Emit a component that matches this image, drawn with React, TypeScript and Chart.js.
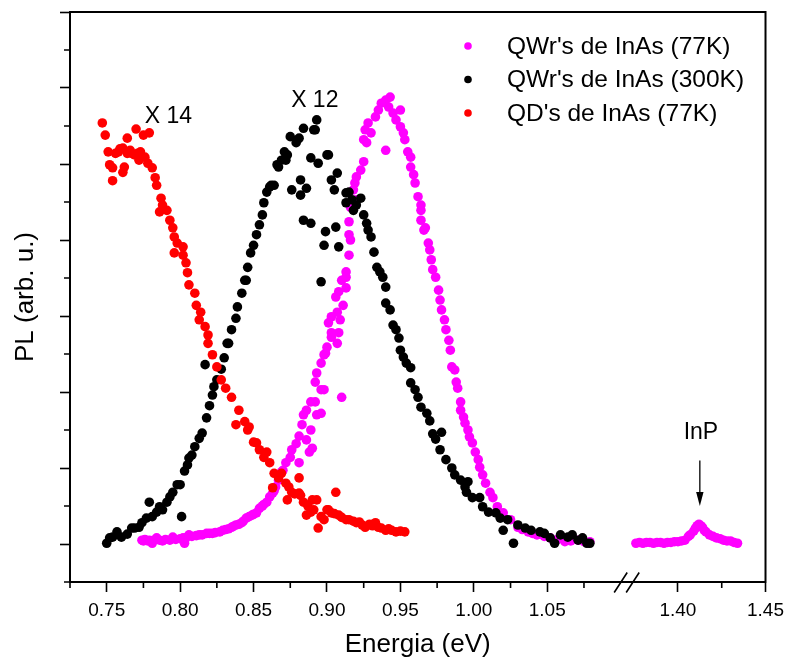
import React, { useEffect, useRef } from 'react';
import { Chart, registerables } from 'chart.js';

Chart.register(...registerables);

// ---------- data ----------
const seriesLabels = ["QWr's de InAs (77K)", "QWr's de InAs (300K)", "QD's de InAs (77K)"];
const seriesColors = ['#ff00ff', '#000000', '#ff0000'];

const majorTicksX = [0.75, 0.8, 0.85, 0.9, 0.95, 1.0, 1.05, 1.4, 1.45];
const minorTicksX = [0.725, 0.775, 0.825, 0.875, 0.925, 0.975, 1.025, 1.075, 1.425];
const majorTicksY = [0, 1, 2, 3, 4, 5, 6, 7];
const minorTicksY = [-0.5, 0.5, 1.5, 2.5, 3.5, 4.5, 5.5, 6.5];

// QWr's de InAs (77K): [energy eV, PL]
const qwr77: number[][] = [
  [0.774, 0.05], [0.775, 0.04], [0.776, 0.06], [0.778, 0.04], [0.779, 0.05], [0.781, 0.01], [0.782, 0.05], [0.784, 0.08],
  [0.786, 0.05], [0.788, 0.04], [0.79, 0.06], [0.793, 0.05], [0.795, 0.09], [0.797, 0.06], [0.8, 0.07], [0.802, 0.08],
  [0.803, 0.01], [0.804, 0.08], [0.806, 0.12], [0.808, 0.1], [0.811, 0.11], [0.813, 0.12], [0.815, 0.12], [0.818, 0.14],
  [0.82, 0.14], [0.822, 0.14], [0.824, 0.15], [0.827, 0.16], [0.829, 0.18], [0.831, 0.19], [0.833, 0.2], [0.835, 0.22],
  [0.836, 0.23], [0.838, 0.25], [0.84, 0.26], [0.842, 0.28], [0.843, 0.3], [0.845, 0.34], [0.847, 0.36], [0.849, 0.38],
  [0.85, 0.39], [0.852, 0.41], [0.854, 0.47], [0.856, 0.5], [0.857, 0.52], [0.859, 0.55], [0.861, 0.62], [0.863, 0.67],
  [0.864, 0.7], [0.865, 0.75], [0.867, 0.84], [0.869, 0.95], [0.87, 0.97], [0.872, 1.07], [0.875, 1.14], [0.876, 1.24],
  [0.879, 1.32], [0.881, 1.42], [0.881, 1.07], [0.883, 1.57], [0.884, 1.7], [0.886, 1.37], [0.886, 1.76], [0.888, 1.21],
  [0.889, 1.87], [0.889, 1.5], [0.89, 1.26], [0.892, 2.13], [0.892, 1.87], [0.893, 2.25], [0.893, 1.7], [0.896, 2.38],
  [0.896, 2.03], [0.896, 1.72], [0.898, 2.03], [0.898, 2.49], [0.899, 2.51], [0.9, 2.59], [0.901, 2.91], [0.903, 2.99],
  [0.903, 2.72], [0.903, 2.78], [0.906, 3.25], [0.907, 3.05], [0.907, 2.64], [0.908, 3.32], [0.908, 2.78], [0.909, 2.95],
  [0.91, 3.47], [0.91, 1.93], [0.911, 3.14], [0.913, 3.58], [0.913, 3.51], [0.913, 3.37], [0.915, 3.8], [0.915, 4.07],
  [0.915, 4.24], [0.916, 4.0], [0.916, 4.43], [0.918, 4.66], [0.919, 4.75], [0.92, 4.83], [0.92, 4.53], [0.923, 4.92],
  [0.925, 5.03], [0.925, 5.32], [0.926, 5.45], [0.927, 5.28], [0.928, 5.54], [0.93, 5.41], [0.933, 5.62], [0.935, 5.71],
  [0.937, 5.8], [0.94, 5.84], [0.94, 5.18], [0.942, 5.75], [0.943, 5.88], [0.945, 5.67], [0.947, 5.58], [0.95, 5.49],
  [0.95, 5.71], [0.952, 5.41], [0.953, 5.32], [0.955, 5.16], [0.957, 5.09], [0.957, 4.96], [0.959, 4.86], [0.96, 4.75],
  [0.962, 4.57], [0.964, 4.46], [0.964, 4.39], [0.964, 4.26], [0.966, 4.13], [0.967, 4.16], [0.969, 3.96], [0.97, 3.87],
  [0.971, 3.74], [0.972, 3.61], [0.974, 3.51], [0.976, 3.34], [0.977, 3.21], [0.978, 3.08], [0.98, 2.95], [0.981, 2.82],
  [0.983, 2.68], [0.984, 2.55], [0.985, 2.33], [0.987, 2.29], [0.988, 2.13], [0.989, 2.05], [0.991, 1.87], [0.991, 1.76],
  [0.993, 1.67], [0.994, 1.59], [0.996, 1.5], [0.997, 1.41], [0.999, 1.33], [1.001, 1.21], [1.003, 1.11], [1.004, 1.01],
  [1.006, 0.91], [1.008, 0.8], [1.011, 0.68], [1.013, 0.61], [1.016, 0.49], [1.02, 0.41], [1.025, 0.32], [1.03, 0.22],
  [1.033, 0.19], [1.037, 0.16], [1.04, 0.14], [1.043, 0.12], [1.048, 0.1], [1.052, 0.08], [1.057, 0.06], [1.062, 0.03],
  [1.066, 0.04], [1.071, 0.05], [1.075, 0.03], [1.079, 0.03],
  [1.376, 0.01], [1.378, 0.02], [1.38, 0.01], [1.382, 0.02], [1.384, 0.02], [1.386, 0.01], [1.388, 0.02], [1.39, 0.02],
  [1.392, 0.01], [1.394, 0.02], [1.396, 0.02], [1.398, 0.03], [1.4, 0.03], [1.402, 0.04], [1.404, 0.05], [1.406, 0.1],
  [1.407, 0.12], [1.409, 0.17], [1.41, 0.21], [1.411, 0.24], [1.412, 0.26], [1.413, 0.24], [1.414, 0.22], [1.415, 0.18],
  [1.416, 0.16], [1.418, 0.12], [1.42, 0.1], [1.422, 0.08], [1.424, 0.07], [1.426, 0.05], [1.428, 0.04], [1.43, 0.04],
  [1.432, 0.02], [1.434, 0.01],
];

// QWr's de InAs (300K)
const qwr300: number[][] = [
  [0.75, 0.01], [0.752, 0.08], [0.754, 0.09], [0.757, 0.16], [0.76, 0.09], [0.764, 0.13], [0.767, 0.21], [0.769, 0.21],
  [0.772, 0.22], [0.774, 0.28], [0.777, 0.34], [0.779, 0.55], [0.781, 0.36], [0.784, 0.42], [0.786, 0.49], [0.788, 0.45],
  [0.791, 0.55], [0.793, 0.62], [0.795, 0.68], [0.798, 0.78], [0.8, 0.78], [0.801, 0.36], [0.803, 0.96], [0.805, 1.04],
  [0.806, 1.13], [0.808, 1.17], [0.81, 1.28], [0.813, 1.39], [0.815, 1.46], [0.817, 2.36], [0.818, 1.66], [0.82, 1.82],
  [0.822, 1.96], [0.823, 2.07], [0.825, 2.16], [0.828, 2.3], [0.83, 2.45], [0.832, 2.64], [0.833, 2.64], [0.835, 2.82],
  [0.838, 2.97], [0.839, 3.12], [0.842, 3.3], [0.844, 3.47], [0.845, 3.47], [0.846, 3.64], [0.848, 3.83], [0.85, 3.93],
  [0.852, 4.07], [0.854, 4.2], [0.856, 4.33], [0.857, 4.49], [0.859, 4.63], [0.861, 4.7], [0.862, 4.72], [0.864, 4.72],
  [0.866, 4.99], [0.867, 4.96], [0.869, 5.05], [0.871, 5.16], [0.872, 5.05], [0.873, 5.12], [0.875, 5.36], [0.876, 4.66],
  [0.879, 5.28], [0.88, 5.32], [0.881, 5.34], [0.882, 4.79], [0.882, 4.59], [0.884, 5.47], [0.884, 4.26], [0.886, 4.68],
  [0.889, 5.08], [0.889, 4.22], [0.891, 5.45], [0.892, 5.45], [0.893, 5.58], [0.894, 5.01], [0.896, 3.45], [0.898, 3.93],
  [0.899, 4.11], [0.9, 5.12], [0.901, 5.12], [0.903, 4.79], [0.905, 4.66], [0.906, 4.17], [0.907, 4.88], [0.908, 3.91],
  [0.913, 4.49], [0.913, 4.62], [0.915, 4.63], [0.917, 4.53], [0.918, 4.39], [0.92, 4.46], [0.923, 4.55], [0.925, 4.33],
  [0.927, 4.22], [0.928, 4.13], [0.93, 4.04], [0.932, 3.84], [0.934, 3.64], [0.936, 3.58], [0.938, 3.51], [0.94, 3.38],
  [0.94, 3.17], [0.943, 3.08], [0.945, 2.88], [0.947, 2.82], [0.949, 2.71], [0.95, 2.55], [0.952, 2.46], [0.954, 2.38],
  [0.957, 2.32], [0.957, 2.12], [0.96, 2.03], [0.962, 1.93], [0.964, 1.8], [0.968, 1.72], [0.97, 1.62], [0.972, 1.45],
  [0.974, 1.38], [0.978, 1.47], [0.977, 1.24], [0.981, 1.11], [0.985, 1.0], [0.987, 0.91], [0.991, 0.84], [0.994, 0.75],
  [0.996, 0.82], [0.995, 0.68], [0.999, 0.61], [1.004, 0.61], [1.006, 0.49], [1.01, 0.42], [1.015, 0.41], [1.018, 0.34],
  [1.02, 0.18], [1.023, 0.32], [1.027, 0.01], [1.03, 0.25], [1.035, 0.21], [1.039, 0.18], [1.045, 0.16], [1.048, 0.14],
  [1.052, 0.08], [1.055, 0.01], [1.059, 0.12], [1.064, 0.09], [1.067, 0.12], [1.071, 0.05], [1.074, 0.08], [1.077, 0.01],
  [1.079, 0.01],
];

// QD's de InAs (77K)
const qd77: number[][] = [
  [0.747, 5.54], [0.749, 5.38], [0.751, 5.16], [0.752, 4.99], [0.754, 4.95], [0.754, 4.78], [0.756, 5.14], [0.758, 5.16],
  [0.759, 5.2], [0.761, 5.21], [0.761, 4.89], [0.762, 4.96], [0.764, 5.34], [0.764, 5.14], [0.766, 5.18], [0.767, 5.14],
  [0.769, 5.12], [0.77, 5.46], [0.771, 5.14], [0.772, 5.05], [0.773, 5.16], [0.775, 5.38], [0.776, 5.09], [0.778, 5.01],
  [0.779, 5.41], [0.781, 4.95], [0.783, 4.82], [0.784, 4.72], [0.786, 4.37], [0.787, 4.55], [0.788, 4.46], [0.791, 4.39],
  [0.793, 4.26], [0.795, 4.16], [0.796, 3.83], [0.796, 4.04], [0.798, 3.96], [0.802, 3.91], [0.802, 3.8], [0.804, 3.7],
  [0.805, 3.57], [0.806, 3.41], [0.81, 3.3], [0.811, 3.14], [0.813, 2.95], [0.814, 3.05], [0.817, 2.86], [0.819, 2.75],
  [0.819, 2.64], [0.822, 2.49], [0.825, 2.33], [0.828, 2.16], [0.831, 2.05], [0.835, 1.93], [0.838, 1.57], [0.84, 1.76],
  [0.844, 1.61], [0.846, 1.5], [0.847, 1.54], [0.85, 1.34], [0.852, 1.33], [0.854, 1.24], [0.857, 1.14], [0.859, 1.21],
  [0.861, 1.07], [0.863, 0.74], [0.864, 0.93], [0.867, 0.87], [0.869, 0.93], [0.872, 0.8], [0.873, 0.58], [0.874, 0.75],
  [0.876, 0.68], [0.878, 0.66], [0.881, 0.87], [0.881, 0.67], [0.882, 0.64], [0.884, 0.55], [0.886, 0.38], [0.887, 0.5],
  [0.889, 0.42], [0.89, 0.58], [0.891, 0.45], [0.893, 0.58], [0.894, 0.21], [0.896, 0.36], [0.898, 0.32], [0.9, 0.45],
  [0.901, 0.45], [0.903, 0.41], [0.905, 0.4], [0.906, 0.68], [0.908, 0.38], [0.91, 0.35], [0.913, 0.32], [0.915, 0.32],
  [0.918, 0.3], [0.92, 0.28], [0.922, 0.29], [0.924, 0.25], [0.926, 0.22], [0.929, 0.26], [0.931, 0.24], [0.933, 0.28],
  [0.935, 0.22], [0.937, 0.21], [0.94, 0.18], [0.942, 0.2], [0.944, 0.18], [0.947, 0.16], [0.95, 0.17], [0.953, 0.16],
];

// annotations (energy, PL)
const annotations = [
  { text: 'X 14', e: 0.792, v: 5.62 },
  { text: 'X 12', e: 0.8917, v: 5.84 },
  { text: 'InP', e: 1.4131, v: 1.46 },
];
const inpArrow = { e: 1.4125, from: 1.1, to: 0.5 };

// ---------- broken axis mapping ----------
const X_MIN = 0.725;
const RIGHT_ORIGIN = 1.139; // axis position of 1.40 eV
const RIGHT_STRETCH = 1.1925;
const BREAK_POS = 1.1041;
const toAxis = (e: number) => (e < 1.2 ? e : RIGHT_ORIGIN + (e - 1.4) * RIGHT_STRETCH);
const X_MAX = toAxis(1.45);

const FONT = '"Liberation Sans", Arial, Helvetica, sans-serif';

const decorPlugin = {
  id: 'decor',
  afterDraw(chart: any) {
    const { ctx, chartArea: a } = chart;
    const xs = chart.scales.x;
    const ys = chart.scales.y;
    ctx.save();
    ctx.strokeStyle = '#000';
    ctx.lineCap = 'butt';
    // top and right frame
    ctx.lineWidth = 2;
    ctx.beginPath();
    ctx.moveTo(a.left - 1, a.top);
    ctx.lineTo(a.right, a.top);
    ctx.lineTo(a.right, a.bottom + 1);
    ctx.stroke();
    // minor ticks
    ctx.lineWidth = 1.6;
    ctx.beginPath();
    minorTicksX.forEach((v) => {
      const px = xs.getPixelForValue(toAxis(v));
      ctx.moveTo(px, a.bottom);
      ctx.lineTo(px, a.bottom + 6);
    });
    minorTicksY.forEach((v) => {
      const py = ys.getPixelForValue(v);
      ctx.moveTo(a.left - 6, py);
      ctx.lineTo(a.left, py);
    });
    ctx.stroke();
    // axis break
    const bx = xs.getPixelForValue(BREAK_POS);
    ctx.lineWidth = 1.6;
    ctx.beginPath();
    [-6, 6].forEach((d) => {
      ctx.moveTo(bx + d - 6.5, a.bottom + 10.5);
      ctx.lineTo(bx + d + 6.5, a.bottom - 9.5);
    });
    ctx.stroke();
    // annotations
    ctx.fillStyle = '#000';
    ctx.font = `23px ${FONT}`;
    ctx.textAlign = 'center';
    ctx.textBaseline = 'middle';
    annotations.forEach((an) => {
      ctx.fillText(an.text, xs.getPixelForValue(toAxis(an.e)), ys.getPixelForValue(an.v));
    });
    // arrow
    const ax = xs.getPixelForValue(toAxis(inpArrow.e));
    const ay1 = ys.getPixelForValue(inpArrow.from);
    const ay2 = ys.getPixelForValue(inpArrow.to);
    ctx.lineWidth = 1.3;
    ctx.beginPath();
    ctx.moveTo(ax, ay1);
    ctx.lineTo(ax, ay2 - 10);
    ctx.stroke();
    ctx.beginPath();
    ctx.moveTo(ax - 3.7, ay2 - 14);
    ctx.lineTo(ax + 3.7, ay2 - 14);
    ctx.lineTo(ax, ay2);
    ctx.closePath();
    ctx.fill();
    // legend
    ctx.textAlign = 'left';
    ctx.font = `24.5px ${FONT}`;
    seriesLabels.forEach((lab, i) => {
      const cy = a.top + 34 + i * 33.5;
      const mx = a.left + 398;
      ctx.fillStyle = seriesColors[i];
      ctx.beginPath();
      ctx.arc(mx, cy, 3.8, 0, Math.PI * 2);
      ctx.fill();
      ctx.fillStyle = '#000';
      ctx.fillText(lab, a.left + 437, cy + 1);
    });
    ctx.restore();
  },
};

const toPoints = (arr: number[][]) => arr.map(([e, v]) => ({ x: toAxis(e), y: v }));

export default function App() {
  const ref = useRef<HTMLCanvasElement | null>(null);
  useEffect(() => {
    if (!ref.current) return;
    const mk = (i: number, data: number[][], order: number) => ({
      label: seriesLabels[i],
      data: toPoints(data),
      backgroundColor: seriesColors[i],
      borderColor: seriesColors[i],
      borderWidth: 0,
      pointRadius: 4.8,
      pointHoverRadius: 4.8,
      showLine: false,
      order,
    });
    const chart = new Chart(ref.current, {
      type: 'scatter',
      data: {
        datasets: [mk(0, qwr77, 2), mk(1, qwr300, 1), mk(2, qd77, 0)],
      },
      options: {
        responsive: false,
        animation: false,
        devicePixelRatio: 1,
        layout: { padding: { top: 12, right: 21, left: 0, bottom: 0 } },
        plugins: { legend: { display: false }, tooltip: { enabled: false } },
        scales: {
          x: {
            type: 'linear',
            min: X_MIN,
            max: X_MAX,
            afterBuildTicks: (s: any) => {
              s.ticks = majorTicksX.map((v) => ({ value: toAxis(v) }));
            },
            afterFit: (s: any) => {
              s.height = 75;
            },
            ticks: {
              autoSkip: false,
              maxRotation: 0,
              padding: 7,
              color: '#000',
              font: { family: FONT, size: 19 },
              callback: (_v: any, i: number) => majorTicksX[i].toFixed(2),
            },
            grid: { drawOnChartArea: false, tickLength: 10, tickWidth: 1.6, tickColor: '#000' },
            border: { display: true, color: '#000', width: 2 },
            title: {
              display: true,
              text: 'Energia (eV)',
              color: '#000',
              font: { family: FONT, size: 26, lineHeight: 0.9 },
              padding: 0,
            },
          },
          y: {
            type: 'linear',
            min: -0.5,
            max: 7,
            afterBuildTicks: (s: any) => {
              s.ticks = majorTicksY.map((v) => ({ value: v }));
            },
            afterFit: (s: any) => {
              s.width = 70;
            },
            ticks: { display: false },
            grid: { drawOnChartArea: false, tickLength: 10, tickWidth: 1.6, tickColor: '#000' },
            border: { display: true, color: '#000', width: 2 },
            title: {
              display: true,
              text: 'PL (arb. u.)',
              color: '#000',
              font: { family: FONT, size: 26, lineHeight: 1.2 },
              padding: { top: 10, bottom: 0 },
            },
          },
        },
      },
      plugins: [decorPlugin],
    } as any);
    return () => chart.destroy();
  }, []);
  return (
    <div style={{ position: 'absolute', left: 0, top: 0, width: 791, height: 657, background: '#fff' }}>
      <canvas ref={ref} width={791} height={657} style={{ display: 'block' }} />
    </div>
  );
}
